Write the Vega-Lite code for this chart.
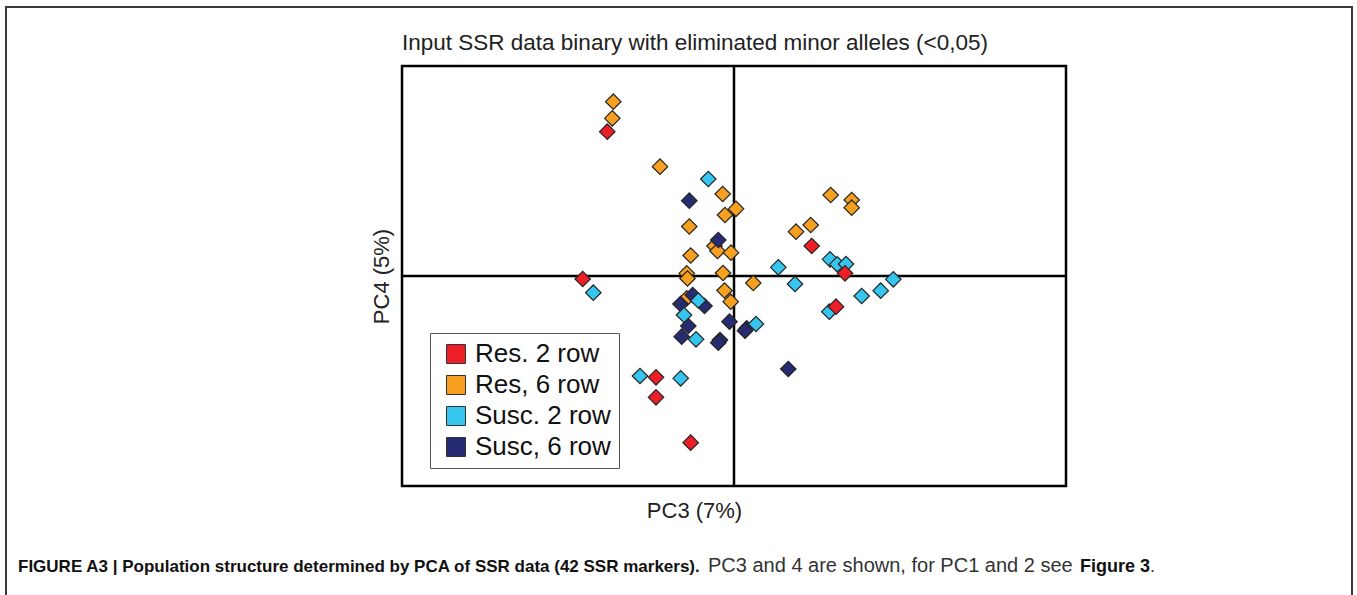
{
  "$schema": "https://vega.github.io/schema/vega-lite/v6.json",
  "width": 664,
  "height": 420,
  "autosize": {"type": "none"},
  "padding": {"left": 402, "top": 66, "right": 291, "bottom": 109},
  "background": "white",
  "title": {
    "text": "Input SSR data binary with eliminated minor alleles (<0,05)",
    "anchor": "start",
    "frame": "group",
    "fontSize": 22.5,
    "font": "Liberation Sans",
    "fontWeight": "normal",
    "color": "#222222",
    "offset": -48
  },
  "datasets": {
    "one": [{"k": 1}],
    "points": [
      {"pc3": -120.7, "pc4": 174.3, "group": "Res, 6 row"},
      {"pc3": -121.7, "pc4": 157.7, "group": "Res, 6 row"},
      {"pc3": -74, "pc4": 109.3, "group": "Res, 6 row"},
      {"pc3": -11.3, "pc4": 82, "group": "Res, 6 row"},
      {"pc3": 2, "pc4": 67.2, "group": "Res, 6 row"},
      {"pc3": -9, "pc4": 61, "group": "Res, 6 row"},
      {"pc3": -44.7, "pc4": 49.5, "group": "Res, 6 row"},
      {"pc3": -19.5, "pc4": 30, "group": "Res, 6 row"},
      {"pc3": -16.5, "pc4": 25, "group": "Res, 6 row"},
      {"pc3": -3, "pc4": 23.3, "group": "Res, 6 row"},
      {"pc3": -43.3, "pc4": 20.5, "group": "Res, 6 row"},
      {"pc3": -47.3, "pc4": 2.7, "group": "Res, 6 row"},
      {"pc3": -46.5, "pc4": -2.5, "group": "Res, 6 row"},
      {"pc3": -11, "pc4": 3, "group": "Res, 6 row"},
      {"pc3": -9.5, "pc4": -14.5, "group": "Res, 6 row"},
      {"pc3": -3.3, "pc4": -25.7, "group": "Res, 6 row"},
      {"pc3": -47.3, "pc4": -22.3, "group": "Res, 6 row"},
      {"pc3": 19.3, "pc4": -7, "group": "Res, 6 row"},
      {"pc3": 96.7, "pc4": 81, "group": "Res, 6 row"},
      {"pc3": 117.7, "pc4": 76, "group": "Res, 6 row"},
      {"pc3": 117.7, "pc4": 68.3, "group": "Res, 6 row"},
      {"pc3": 62, "pc4": 44.3, "group": "Res, 6 row"},
      {"pc3": 76.7, "pc4": 51, "group": "Res, 6 row"},
      {"pc3": -44.7, "pc4": 75.3, "group": "Susc, 6 row"},
      {"pc3": -15.7, "pc4": 36, "group": "Susc, 6 row"},
      {"pc3": -41.3, "pc4": -19, "group": "Susc, 6 row"},
      {"pc3": -29.5, "pc4": -30, "group": "Susc, 6 row"},
      {"pc3": -53.5, "pc4": -28, "group": "Susc, 6 row"},
      {"pc3": -45.7, "pc4": -50, "group": "Susc, 6 row"},
      {"pc3": -52.3, "pc4": -60.7, "group": "Susc, 6 row"},
      {"pc3": -14, "pc4": -64, "group": "Susc, 6 row"},
      {"pc3": -15.7, "pc4": -66.7, "group": "Susc, 6 row"},
      {"pc3": -4.5, "pc4": -45.7, "group": "Susc, 6 row"},
      {"pc3": 12.7, "pc4": -52.3, "group": "Susc, 6 row"},
      {"pc3": 11, "pc4": -54.7, "group": "Susc, 6 row"},
      {"pc3": 54.3, "pc4": -93, "group": "Susc, 6 row"},
      {"pc3": -25.7, "pc4": 97, "group": "Susc. 2 row"},
      {"pc3": -140.7, "pc4": -16.7, "group": "Susc. 2 row"},
      {"pc3": 44.3, "pc4": 8.7, "group": "Susc. 2 row"},
      {"pc3": 61, "pc4": -8, "group": "Susc. 2 row"},
      {"pc3": 96, "pc4": 16.7, "group": "Susc. 2 row"},
      {"pc3": 103.3, "pc4": 11.7, "group": "Susc. 2 row"},
      {"pc3": 112, "pc4": 12, "group": "Susc. 2 row"},
      {"pc3": 159.3, "pc4": -3.3, "group": "Susc. 2 row"},
      {"pc3": 146.7, "pc4": -14.7, "group": "Susc. 2 row"},
      {"pc3": 127.7, "pc4": -20, "group": "Susc. 2 row"},
      {"pc3": 95.3, "pc4": -35.7, "group": "Susc. 2 row"},
      {"pc3": 22, "pc4": -48, "group": "Susc. 2 row"},
      {"pc3": -35.7, "pc4": -24.5, "group": "Susc. 2 row"},
      {"pc3": -50, "pc4": -39, "group": "Susc. 2 row"},
      {"pc3": -38, "pc4": -63.3, "group": "Susc. 2 row"},
      {"pc3": -94, "pc4": -100, "group": "Susc. 2 row"},
      {"pc3": -53.3, "pc4": -102.3, "group": "Susc. 2 row"},
      {"pc3": -126.7, "pc4": 144.3, "group": "Res. 2 row"},
      {"pc3": -151.3, "pc4": -3, "group": "Res. 2 row"},
      {"pc3": 77.7, "pc4": 30, "group": "Res. 2 row"},
      {"pc3": 111, "pc4": 2.7, "group": "Res. 2 row"},
      {"pc3": 102, "pc4": -30.7, "group": "Res. 2 row"},
      {"pc3": -78, "pc4": -101.3, "group": "Res. 2 row"},
      {"pc3": -78, "pc4": -121.3, "group": "Res. 2 row"},
      {"pc3": -43.3, "pc4": -166.7, "group": "Res. 2 row"}
    ]
  },
  "layer": [
    {
      "data": {"name": "one"},
      "mark": {"type": "rect", "filled": false, "stroke": "#3a3a3a", "strokeWidth": 2},
      "encoding": {
        "x": {"datum": -728, "type": "quantitative", "scale": {"domain": [-332, 332], "nice": false, "zero": false}, "axis": {"title": "PC3 (7%)", "titleX": 292, "titleY": 24, "titleBaseline": "middle"}},
        "x2": {"datum": 618},
        "y": {"datum": 269, "type": "quantitative", "scale": {"domain": [-210, 210], "nice": false, "zero": false}, "axis": {"title": "PC4 (5%)", "titleX": -21, "titleY": 210, "titleBaseline": "middle", "titleAngle": -90}},
        "y2": {"datum": -330}
      }
    },
    {
      "data": {"name": "one"},
      "mark": {"type": "rule", "color": "black", "strokeWidth": 2.5},
      "encoding": {"x": {"datum": 0, "type": "quantitative"}}
    },
    {
      "data": {"name": "one"},
      "mark": {"type": "rule", "color": "black", "strokeWidth": 2.5},
      "encoding": {"y": {"datum": 0, "type": "quantitative"}}
    },
    {
      "data": {"name": "points"},
      "mark": {"type": "point", "shape": "diamond", "filled": true, "size": 240, "stroke": "#262626", "strokeWidth": 1.2, "opacity": 1},
      "encoding": {
        "x": {"field": "pc3", "type": "quantitative"},
        "y": {"field": "pc4", "type": "quantitative"},
        "color": {
          "field": "group",
          "type": "nominal",
          "scale": {
            "domain": ["Res. 2 row", "Res, 6 row", "Susc. 2 row", "Susc, 6 row"],
            "range": ["#ec1f27", "#f7a01f", "#35c5ef", "#262b72"]
          },
          "legend": {
            "orient": "none",
            "legendX": 28,
            "legendY": 267,
            "title": null,
            "symbolType": "square",
            "symbolSize": 361,
            "symbolStrokeColor": "#333333",
            "symbolStrokeWidth": 1,
            "symbolOffset": 5,
            "labelFontSize": 26,
            "labelFont": "Liberation Sans",
            "labelColor": "#111111",
            "labelOffset": 6,
            "rowPadding": 5,
            "padding": 8,
            "strokeColor": "#555555",
            "fillColor": "white"
          }
        }
      }
    },
    {
      "data": {"name": "one"},
      "mark": {"type": "text", "align": "left", "baseline": "alphabetic", "fontSize": 17, "fontWeight": "bold", "font": "Liberation Sans", "color": "#111111", "text": "FIGURE A3 | Population structure determined by PCA of SSR data (42 SSR markers)."},
      "encoding": {"x": {"datum": -716}, "y": {"datum": -296}}
    },
    {
      "data": {"name": "one"},
      "mark": {"type": "text", "align": "left", "baseline": "alphabetic", "fontSize": 20, "font": "Liberation Sans", "color": "#333333", "text": "PC3 and 4 are shown, for PC1 and 2 see"},
      "encoding": {"x": {"datum": -26}, "y": {"datum": -296}}
    },
    {
      "data": {"name": "one"},
      "mark": {"type": "text", "align": "left", "baseline": "alphabetic", "fontSize": 18, "fontWeight": "bold", "font": "Liberation Sans", "color": "#111111", "text": "Figure 3"},
      "encoding": {"x": {"datum": 346}, "y": {"datum": -296}}
    },
    {
      "data": {"name": "one"},
      "mark": {"type": "text", "align": "left", "baseline": "alphabetic", "fontSize": 18, "font": "Liberation Sans", "color": "#333333", "text": "."},
      "encoding": {"x": {"datum": 416}, "y": {"datum": -296}}
    }
  ],
  "config": {
    "view": {"stroke": "black", "strokeWidth": 2.5},
    "axis": {"domain": false, "ticks": false, "labels": false, "grid": false, "titleFont": "Liberation Sans", "titleFontSize": 22, "titleFontWeight": "normal", "titleColor": "#222222"}
  }
}
